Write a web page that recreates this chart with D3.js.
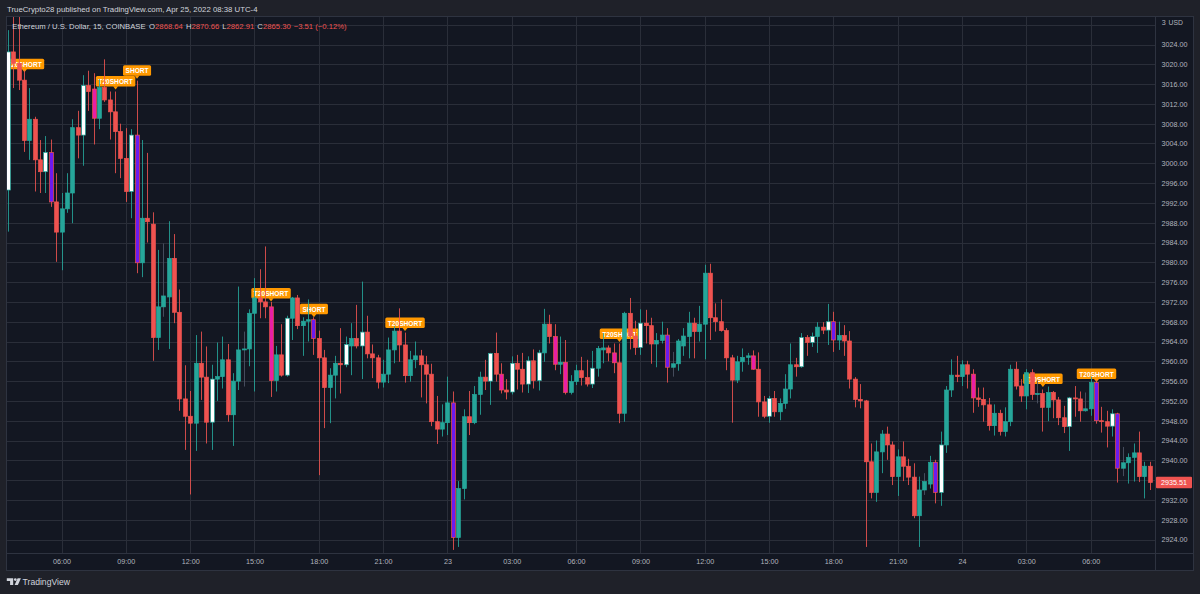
<!DOCTYPE html>
<html><head><meta charset="utf-8">
<script src="https://cdn.jsdelivr.net/npm/d3@7"></script>
<style>
body{margin:0;background:#1f2129;}
svg{display:block;font-family:"Liberation Sans",Arial,sans-serif;}
</style>
</head><body>
<svg id="c" width="1200" height="594"></svg>
<script>
// ---------- DATA ----------
const firstBarTime = Date.UTC(2022, 3, 22, 3, 30); // 15-minute bars
const barMinutes = 15;

const opens = [
2994.6,3022.5,3020.2,3016.8,3004.6,3008.9,3000.7,2998.3,3002.2,2992.2,
2986.1,2990.8,2994.0,3007.2,3005.7,3015.7,3015.0,3009.1,3015.3,3012.8,
3010.4,3006.4,3001.0,2994.3,3005.7,2979.9,2988.9,2987.7,2964.8,2971.0,
2973.0,2980.8,2969.9,2952.4,2948.9,2947.5,2959.6,2956.8,2947.7,2956.4,
2956.9,2960.3,2949.2,2956.0,2962.3,2962.5,2969.7,2972.8,2972.0,2971.0,
2956.1,2961.3,2957.2,2968.7,2972.8,2967.2,2968.1,2968.4,2964.6,2960.7,
2954.7,2957.2,2959.6,2959.3,2963.1,2964.6,2963.1,2965.9,2961.5,2960.7,
2955.8,2957.4,2962.3,2966.1,2963.3,2957.1,2960.3,2961.1,2959.3,2957.4,
2947.8,2946.3,2947.6,2951.6,2924.4,2934.3,2948.8,2947.6,2953.3,2956.8,
2956.0,2961.6,2957.4,2954.2,2953.8,2959.6,2958.4,2955.4,2960.1,2956.1,
2961.7,2967.5,2965.0,2959.4,2959.8,2953.7,2955.9,2958.1,2956.7,2955.4,
2958.6,2962.3,2962.7,2961.7,2959.7,2949.5,2969.7,2965.1,2962.8,2967.7,
2967.2,2963.5,2964.2,2965.3,2958.8,2959.5,2963.1,2965.0,2967.7,2966.0,
2967.5,2977.8,2968.8,2968.0,2966.2,2960.7,2956.2,2959.9,2960.8,2961.1,
2958.4,2951.8,2948.9,2952.5,2949.8,2951.5,2954.4,2959.3,2958.9,2964.8,
2963.8,2965.0,2966.9,2966.3,2968.0,2964.3,2965.2,2964.1,2956.4,2952.3,
2952.0,2939.7,2933.5,2941.7,2945.3,2943.1,2936.7,2940.7,2938.8,2936.6,
2928.8,2934.0,2935.2,2939.6,2933.5,2943.1,2954.2,2957.2,2956.9,2959.3,
2957.4,2952.6,2952.3,2951.2,2947.0,2949.5,2945.8,2947.8,2958.4,2955.0,
2953.0,2957.7,2953.3,2953.5,2950.7,2953.7,2952.2,2948.6,2946.8,2952.6,
2952.4,2950.0,2950.4,2955.7,2948.0,2947.8,2946.9,2949.4,2938.4,2939.5,
2940.6,2941.5,2936.7,2938.8];

const highs = [
3026.9,3031.0,3030.5,3018.8,3015.2,3009.4,3004.7,3005.5,3004.8,2998.0,
2994.0,2998.0,3008.9,3010.6,3017.8,3018.7,3018.2,3017.0,3021.0,3014.5,
3014.5,3008.0,3007.1,3006.9,3016.7,3004.7,3002.1,2990.1,2982.5,2983.8,
2988.3,2985.7,2974.5,2959.2,2954.0,2965.3,2966.0,2963.0,2959.3,2963.8,
2965.0,2963.5,2957.6,2975.1,2966.0,2970.5,2976.8,2978.6,2983.2,2972.0,
2963.1,2967.5,2969.2,2973.0,2973.4,2968.9,2972.5,2968.9,2966.2,2962.3,
2958.6,2961.1,2966.7,2965.0,2967.7,2971.4,2976.1,2969.2,2963.4,2961.3,
2960.3,2964.8,2967.1,2970.7,2965.8,2962.1,2964.0,2962.3,2961.1,2959.5,
2953.0,2951.3,2956.9,2953.9,2935.8,2950.3,2954.0,2955.0,2957.9,2960.3,
2961.7,2965.8,2959.6,2956.4,2961.0,2961.3,2961.7,2961.0,2962.4,2962.3,
2970.6,2969.4,2967.5,2965.0,2964.3,2957.2,2959.3,2960.9,2960.3,2962.1,
2963.1,2965.7,2963.2,2963.6,2963.6,2970.0,2972.8,2968.2,2970.5,2970.4,
2968.8,2965.7,2968.0,2966.7,2961.9,2964.5,2966.7,2970.0,2968.8,2971.2,
2979.5,2979.7,2971.7,2972.5,2966.7,2961.3,2961.1,2962.6,2961.7,2962.2,
2961.8,2953.0,2953.0,2954.0,2952.5,2957.4,2963.6,2960.7,2965.7,2965.3,
2965.8,2967.9,2967.9,2971.6,2970.0,2968.0,2967.3,2966.1,2956.8,2955.4,
2952.2,2943.4,2944.0,2946.1,2946.8,2943.8,2942.2,2943.8,2940.3,2939.4,
2936.7,2937.4,2940.9,2940.1,2945.8,2955.0,2960.4,2961.1,2960.2,2960.1,
2958.4,2954.7,2954.7,2952.6,2951.3,2950.2,2950.7,2959.3,2959.9,2956.4,
2958.4,2958.4,2956.2,2954.3,2954.9,2954.0,2952.8,2951.0,2952.8,2955.0,
2953.9,2953.7,2956.9,2956.3,2950.8,2950.0,2950.3,2949.6,2942.7,2941.4,
2943.4,2945.8,2939.7,2939.7];

const lows = [
2986.2,3015.2,3014.8,3002.3,3000.7,2994.3,2994.0,2994.0,2991.2,2980.1,
2978.4,2990.0,2987.9,3001.0,2999.5,3010.6,3003.8,3006.9,3012.4,3004.8,
2998.0,2997.0,2992.2,2988.9,2977.8,2977.0,2984.0,2960.1,2962.3,2969.0,
2962.5,2967.7,2950.0,2942.1,2933.1,2941.9,2952.2,2943.4,2942.1,2952.0,
2954.5,2947.8,2942.9,2954.2,2954.9,2959.0,2953.9,2968.7,2968.7,2952.8,
2953.9,2956.9,2956.9,2964.3,2966.5,2961.1,2964.0,2961.3,2937.0,2946.5,
2947.5,2952.5,2953.5,2958.8,2957.2,2962.6,2956.4,2960.6,2956.6,2954.5,
2954.7,2955.6,2959.6,2959.9,2955.7,2955.9,2958.6,2952.7,2951.5,2946.9,
2943.3,2944.8,2945.1,2921.9,2922.5,2932.1,2945.1,2947.3,2949.2,2954.2,
2951.2,2955.9,2953.5,2952.3,2953.3,2954.3,2953.7,2953.6,2954.5,2954.1,
2959.9,2963.6,2958.2,2957.4,2953.3,2953.3,2955.2,2955.1,2954.9,2954.6,
2956.9,2959.6,2960.0,2957.6,2947.5,2947.8,2962.4,2961.3,2961.3,2963.6,
2959.5,2958.8,2963.6,2955.7,2956.9,2958.1,2961.1,2960.6,2960.6,2964.0,
2960.4,2964.3,2966.0,2966.0,2958.2,2947.6,2955.6,2957.9,2959.3,2958.3,
2948.8,2948.5,2947.6,2948.8,2948.1,2950.4,2952.5,2956.9,2958.7,2961.1,
2962.9,2961.7,2965.5,2963.3,2961.9,2962.3,2961.1,2954.5,2950.7,2950.5,
2922.5,2932.3,2931.6,2937.4,2940.1,2935.0,2932.8,2935.8,2935.0,2928.3,
2922.5,2933.0,2934.3,2931.3,2930.8,2941.5,2952.8,2955.8,2955.0,2954.5,
2949.6,2950.8,2947.8,2946.0,2945.0,2945.0,2944.8,2946.9,2954.3,2951.8,
2950.3,2952.2,2951.5,2945.8,2947.9,2948.5,2947.1,2945.5,2941.9,2948.8,
2947.8,2949.8,2949.0,2947.4,2945.6,2942.6,2944.8,2935.5,2936.8,2935.3,
2935.7,2935.6,2932.3,2934.0];

const closes = [
3022.5,3020.2,3016.8,3004.6,3008.9,3000.7,2998.3,3002.2,2992.2,2986.1,
2990.8,2994.0,3007.2,3005.7,3015.7,3014.5,3009.1,3015.3,3012.8,3010.4,
3006.4,3001.0,2994.3,3005.7,2979.9,2988.9,2988.2,2964.8,2971.0,2973.2,
2980.8,2969.9,2952.4,2948.9,2947.5,2959.6,2956.8,2947.7,2956.4,2956.9,
2960.3,2949.2,2956.0,2962.3,2962.5,2969.7,2972.8,2972.0,2971.0,2956.1,
2961.3,2957.2,2968.7,2972.8,2967.2,2968.1,2968.4,2964.6,2960.7,2954.7,
2957.2,2959.6,2959.3,2963.4,2964.6,2963.1,2965.9,2961.5,2960.7,2955.8,
2957.4,2962.3,2966.1,2963.3,2957.1,2960.3,2961.1,2959.3,2957.4,2947.8,
2946.3,2947.6,2951.6,2924.4,2934.3,2948.8,2947.6,2953.3,2956.8,2956.0,
2961.6,2957.4,2954.2,2953.8,2959.6,2958.4,2955.4,2960.1,2956.1,2961.7,
2967.5,2965.0,2959.4,2959.8,2953.7,2955.9,2958.1,2956.7,2955.4,2958.6,
2962.6,2962.7,2961.7,2959.7,2949.5,2969.7,2965.1,2962.8,2967.7,2967.2,
2963.5,2964.2,2965.3,2958.8,2959.5,2964.1,2965.1,2967.7,2966.0,2967.5,
2977.8,2968.8,2968.0,2966.2,2960.7,2956.2,2959.9,2960.8,2961.1,2958.4,
2951.8,2948.9,2952.5,2949.8,2951.5,2954.4,2959.3,2958.9,2964.8,2963.8,
2965.0,2966.9,2966.3,2968.0,2964.3,2965.2,2964.1,2956.4,2952.3,2952.0,
2939.7,2933.5,2941.7,2945.3,2943.1,2936.7,2940.7,2938.8,2936.6,2928.8,
2934.0,2935.7,2939.6,2933.5,2943.1,2954.2,2957.2,2956.9,2959.3,2957.4,
2952.6,2952.3,2951.2,2947.0,2949.5,2945.8,2947.8,2958.4,2955.0,2953.0,
2957.7,2953.3,2953.5,2950.7,2953.7,2952.2,2948.6,2946.8,2952.6,2952.4,
2950.0,2950.4,2955.7,2948.0,2947.8,2946.9,2949.4,2938.4,2939.5,2940.6,
2941.5,2936.7,2938.8,2935.51];

// bars recoloured by the indicator (indices into the arrays above)
const whiteBars   = [0,7,14,23,38,52,63,66,90,94,97,99,109,118,142,148,150,153,174,198,206];
const magentaBars = [16,49,92,102,104,113,139,180];
const purpleBars  = [8,24,57,83,123,154,173,203,207];
const greyWickBars = [29,44,124,171,192,201,208];

// signal labels
const signalBars   = [3,20,24,49,57,74,114,193,203];
const signalTexts  = ["T20SHORT","T20SHORT","SHORT","T20SHORT","SHORT","T20SHORT","T20SHORT","T20SHORT","T20SHORT"];
const signalPrices = [3018.4,3014.9,3017.1,2972.1,2968.9,2966.1,2963.9,2954.8,2955.8];

const priceTicks = d3.range(2924, 3025, 4);
const topClippedLabel = "3";   // partially hidden 3028.00 label next to the unit
const unitLabel = "USD";
const lastPrice = 2935.51;

const headerTitle = "TrueCrypto28 published on TradingView.com, Apr 25, 2022 08:38 UTC-4";
const symbolTitle = "Ethereum / U.S. Dollar, 15, COINBASE";
const legendKeys = ["O","H","L","C"];
const legendVals = ["2868.64","2870.66","2862.91","2865.30"];
const legendChange = "\u22123.51 (\u22120.12%)";

// ---------- LAYOUT ----------
const W = 1200, H = 594;
const pane = {x0: 7, x1: 1155, y0: 17, y1: 553};
const axisRight = 1193, axisBottom = 570;
const UP = "#26a69a", DOWN = "#ef5350";
const bg = "#131722", outer = "#1f2129", grid = "#2a2e39", border = "#2e3340";
const textCol = "#b2b5be";

const svg = d3.select("#c");
svg.append("rect").attr("width", W).attr("height", H).attr("fill", outer);
svg.append("rect").attr("x", pane.x0).attr("y", pane.y0)
  .attr("width", axisRight - pane.x0).attr("height", axisBottom - pane.y0).attr("fill", bg);

const x = d3.scaleUtc()
  .domain([new Date(Date.UTC(2022,3,22,6,0)), new Date(Date.UTC(2022,3,24,0,0))])
  .range([61.5, 962]);
const y = d3.scaleLinear().domain([2924, 3024]).range([539.5, 44.5]);

const bars = opens.map((o, k) => ({
  k, t: new Date(firstBarTime + k * barMinutes * 60000),
  o, h: highs[k], l: lows[k], c: closes[k]
}));
const lastTime = bars[bars.length - 1].t;
const timeTicks = d3.utcHour.every(3).range(bars[0].t, new Date(+lastTime + 60000));

// clip
svg.append("clipPath").attr("id", "pc").append("rect")
  .attr("x", pane.x0).attr("y", pane.y0).attr("width", pane.x1 - pane.x0).attr("height", pane.y1 - pane.y0);

// grid
const g = svg.append("g").attr("clip-path", "url(#pc)");
g.selectAll(".hg").data(priceTicks.concat([3028])).join("line")
  .attr("x1", pane.x0).attr("x2", pane.x1)
  .attr("y1", d => Math.round(y(d)) + 0.5).attr("y2", d => Math.round(y(d)) + 0.5)
  .attr("stroke", grid).attr("stroke-width", 1);
g.selectAll(".vg").data(timeTicks).join("line")
  .attr("y1", pane.y0).attr("y2", pane.y1)
  .attr("x1", d => Math.round(x(d)) + 0.5).attr("x2", d => Math.round(x(d)) + 0.5)
  .attr("stroke", grid).attr("stroke-width", 1);

// signal labels (drawn below candles)
const lab = g.append("g");
signalBars.forEach((k, j) => {
  const cx = x(bars[k].t) + 0.5;
  const tip = y(signalPrices[j]);
  const t = lab.append("text").text(signalTexts[j])
    .attr("font-size", 6.6).attr("font-weight", "bold").attr("fill", "#ffffff")
    .attr("text-anchor", "middle").attr("x", cx).attr("y", tip - 5.3);
  const tw = t.node().getComputedTextLength();
  const bw = tw + 5, bh = 10.5, by = tip - 3 - bh;
  lab.insert("rect", "text").attr("x", cx - bw / 2).attr("y", by).attr("width", bw).attr("height", bh)
    .attr("rx", 1.5).attr("fill", "#ff9800");
  lab.insert("path", "text").attr("d", `M${cx-2.5},${tip-3.2}L${cx+2.5},${tip-3.2}L${cx},${tip}Z`).attr("fill", "#ff9800");
});

// candles
const fillFor = d => whiteBars.includes(d.k) ? "#ffffff"
  : magentaBars.includes(d.k) ? "#e91ea6"
  : purpleBars.includes(d.k) ? "#6d1af0"
  : (d.c >= d.o ? UP : DOWN);
const dirCol = d => d.c >= d.o ? UP : DOWN;
const cg = g.append("g");
cg.selectAll(".wick").data(bars).join("line")
  .attr("x1", d => Math.round(x(d.t)) + 0.5).attr("x2", d => Math.round(x(d.t)) + 0.5)
  .attr("y1", d => y(d.h)).attr("y2", d => y(d.l))
  .attr("stroke", d => greyWickBars.includes(d.k) ? "#4f5666" : dirCol(d))
  .attr("stroke-opacity", 0.85).attr("stroke-width", 1);
cg.selectAll(".body").data(bars).join("rect")
  .attr("x", d => Math.round(x(d.t)) - 1.4)
  .attr("width", 3.8)
  .attr("y", d => y(Math.max(d.o, d.c)))
  .attr("height", d => Math.max(1, Math.abs(y(d.o) - y(d.c))))
  .attr("fill", fillFor)
  .attr("stroke", dirCol).attr("stroke-width", 0.7);

// header text
svg.append("text").attr("x", 7).attr("y", 11.5).attr("font-size", 7.8).attr("fill", "#d1d4dc").text(headerTitle);
const leg = svg.append("text").attr("x", 12.3).attr("y", 29.4).attr("font-size", 7.7).attr("fill", "#d1d4dc");
leg.append("tspan").text(symbolTitle);
legendKeys.forEach((kk, j) => {
  leg.append("tspan").attr("dx", j === 0 ? 3.5 : 3).attr("fill", "#d1d4dc").text(kk);
  leg.append("tspan").attr("fill", DOWN).text(legendVals[j]);
});
leg.append("tspan").attr("dx", 3).attr("fill", DOWN).text(legendChange);

// axes panel borders
svg.append("line").attr("x1", pane.x1 + 0.5).attr("x2", pane.x1 + 0.5).attr("y1", pane.y0).attr("y2", axisBottom)
  .attr("stroke", border);
svg.append("line").attr("x1", pane.x0).attr("x2", axisRight).attr("y1", pane.y1 + 0.5).attr("y2", pane.y1 + 0.5)
  .attr("stroke", border);
svg.append("rect").attr("x", pane.x0 - 0.5).attr("y", pane.y0 - 0.5)
  .attr("width", axisRight - pane.x0 + 1).attr("height", axisBottom - pane.y0 + 1)
  .attr("fill", "none").attr("stroke", border);

// price axis
const ya = svg.append("g").attr("transform", `translate(${pane.x1},0)`)
  .call(d3.axisRight(y).tickValues(priceTicks).tickFormat(d3.format(".2f")).tickSize(0).tickPadding(6.5));
ya.select(".domain").remove();
ya.selectAll("text").attr("fill", textCol).attr("font-size", 7.2).attr("font-family", "Liberation Sans, Arial, sans-serif");
// clipped top label + unit
svg.append("text").attr("x", 1161.7).attr("y", 24.6).attr("font-size", 7.2).attr("fill", textCol).text(topClippedLabel);
svg.append("text").attr("x", 1168.5).attr("y", 25).attr("font-size", 6.8).attr("fill", textCol).text(unitLabel);

// last price label
svg.append("rect").attr("x", 1156).attr("y", y(lastPrice) - 5.7).attr("width", 36).attr("height", 11.4)
  .attr("rx", 1).attr("fill", DOWN);
svg.append("text").attr("x", 1174).attr("y", y(lastPrice) + 2.6).attr("text-anchor", "middle")
  .attr("font-size", 7.2).attr("fill", "#ffffff").text(d3.format(".2f")(lastPrice));

// time axis
const fmt = d => d.getUTCHours() === 0 ? String(d.getUTCDate()) : d3.utcFormat("%H:%M")(d);
const xa = svg.append("g").attr("transform", `translate(0,${pane.y1})`)
  .call(d3.axisBottom(x).tickValues(timeTicks).tickFormat(fmt).tickSize(0).tickPadding(5.5));
xa.select(".domain").remove();
xa.selectAll("text").attr("fill", textCol).attr("font-size", 7.2).attr("font-family", "Liberation Sans, Arial, sans-serif");

// TradingView footer logo
const logo = svg.append("g").attr("fill", "#d1d4dc");
logo.append("path").attr("d", "M6.8,578.2h6.4v6.8h-3.1v-4.1h-3.3z");
logo.append("circle").attr("cx", 15.3).attr("cy", 579.6).attr("r", 1.35);
logo.append("path").attr("d", "M17.6,578.2h3.3l-3,6.8h-3.3z");
svg.append("text").attr("x", 22.6).attr("y", 585.2).attr("font-size", 8.6).attr("fill", "#d1d4dc").text("TradingView");
</script>
</body></html>
